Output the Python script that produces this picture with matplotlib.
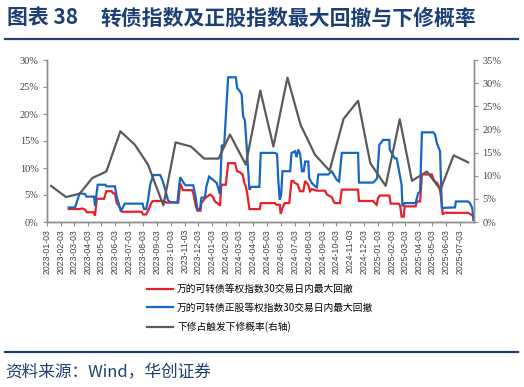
import matplotlib
matplotlib.use('Agg')
import matplotlib.pyplot as plt
import matplotlib.dates as mdates
from matplotlib.lines import Line2D
from matplotlib.ticker import FuncFormatter
import pandas as pd

plt.rcParams['font.family'] = ['Noto Sans CJK SC', 'DejaVu Sans']

# ---------------- data ----------------
blue_dates = ['2023-02-20', '2023-03-06', '2023-03-16', '2023-03-28', '2023-03-31', '2023-04-17',
              '2023-04-19', '2023-04-25', '2023-05-12', '2023-05-14', '2023-06-02', '2023-06-06',
              '2023-06-10', '2023-06-15', '2023-06-24', '2023-08-02', '2023-08-05', '2023-08-10',
              '2023-08-14', '2023-08-19', '2023-08-26', '2023-09-10', '2023-09-16', '2023-09-21',
              '2023-09-27', '2023-10-02', '2023-10-18', '2023-10-24', '2023-11-02', '2023-11-05',
              '2023-11-22', '2023-11-27', '2023-12-01', '2023-12-07', '2023-12-10', '2023-12-18',
              '2023-12-21', '2023-12-27', '2024-01-05', '2024-01-13', '2024-01-16', '2024-01-20',
              '2024-01-24', '2024-01-29', '2024-02-07', '2024-02-24', '2024-02-27', '2024-03-04',
              '2024-03-08', '2024-03-11', '2024-03-15', '2024-03-19', '2024-03-25', '2024-03-29',
              '2024-04-16', '2024-04-19', '2024-05-20', '2024-05-25', '2024-05-28', '2024-05-31',
              '2024-06-03', '2024-06-06', '2024-06-23', '2024-06-26', '2024-07-04', '2024-07-07',
              '2024-07-11', '2024-07-15', '2024-07-19', '2024-07-23', '2024-07-26', '2024-08-02',
              '2024-08-04', '2024-08-10', '2024-08-17', '2024-08-21', '2024-08-24', '2024-09-15',
              '2024-09-23', '2024-10-04', '2024-10-09', '2024-10-15', '2024-11-20', '2024-11-22',
              '2024-12-23', '2024-12-27', '2025-01-01', '2025-01-06', '2025-01-11', '2025-01-14',
              '2025-01-28', '2025-01-29', '2025-02-04', '2025-02-09', '2025-02-13', '2025-02-18',
              '2025-02-24', '2025-02-26', '2025-03-03', '2025-03-27', '2025-04-02', '2025-04-06',
              '2025-04-10', '2025-05-05', '2025-05-09', '2025-05-13', '2025-05-20', '2025-05-24',
              '2025-06-22', '2025-06-24', '2025-07-21', '2025-07-25', '2025-07-30', '2025-08-02']
blue_vals = [2.7, 2.7, 5.3, 5.2, 4.7, 4.7,
             3.0, 6.9, 6.9, 6.6, 6.6, 4.7,
             3.6, 2.0, 3.4, 3.4, 2.4, 2.4,
             4.0, 7.0, 8.7, 8.7, 7.5, 6.0,
             4.1, 3.7, 3.6, 8.3, 7.1, 6.8,
             6.8, 4.7, 2.4, 2.4, 4.5, 4.6,
             6.6, 8.4, 7.8, 7.2, 6.3, 5.2,
             14.3, 13.8, 26.8, 26.8, 24.8, 24.2,
             23.6, 19.6, 18.8, 14.0, 6.0, 6.5,
             6.5, 12.8, 12.8, 12.6, 7.5, 4.1,
             5.0, 9.4, 9.4, 12.8, 13.1, 12.0,
             13.4, 12.6, 9.4, 9.4, 11.2, 11.2,
             8.1, 7.2, 6.6, 6.4, 8.8, 8.8,
             9.4, 7.8, 7.5, 12.8, 12.8, 7.3,
             7.3, 7.6, 8.1, 14.3, 14.8, 15.2,
             15.2, 13.4, 12.5, 11.8, 11.8, 9.7,
             6.9, 2.9, 3.5, 3.5, 5.4, 5.6,
             16.6, 16.6, 16.2, 14.6, 13.1, 2.6,
             2.7, 3.8, 3.8, 3.5, 2.6, 0.4]

red_dates = ['2023-02-20', '2023-03-17', '2023-03-21', '2023-03-28', '2023-04-01', '2023-04-16',
             '2023-04-19', '2023-04-23', '2023-05-09', '2023-05-14', '2023-05-26', '2023-05-29',
             '2023-06-02', '2023-06-06', '2023-06-10', '2023-06-17', '2023-07-31', '2023-08-03',
             '2023-08-10', '2023-08-16', '2023-08-21', '2023-08-25', '2023-09-16', '2023-09-24',
             '2023-10-20', '2023-10-24', '2023-10-30', '2023-11-19', '2023-11-22', '2023-11-27',
             '2023-12-01', '2023-12-08', '2023-12-10', '2023-12-18', '2023-12-29', '2024-01-04',
             '2024-01-09', '2024-01-16', '2024-01-20', '2024-01-23', '2024-02-02', '2024-02-07',
             '2024-02-22', '2024-02-27', '2024-03-04', '2024-03-10', '2024-03-14', '2024-03-17',
             '2024-03-20', '2024-03-25', '2024-04-17', '2024-04-19', '2024-05-20', '2024-05-24',
             '2024-05-31', '2024-06-02', '2024-06-06', '2024-06-11', '2024-06-21', '2024-06-26',
             '2024-06-30', '2024-07-04', '2024-07-09', '2024-07-15', '2024-07-22', '2024-07-26',
             '2024-08-02', '2024-08-06', '2024-08-10', '2024-08-21', '2024-09-08', '2024-09-12',
             '2024-09-23', '2024-09-27', '2024-09-30', '2024-10-11', '2024-10-15', '2024-11-20',
             '2024-11-22', '2024-12-23', '2024-12-27', '2024-12-31', '2025-01-03', '2025-01-07',
             '2025-01-28', '2025-01-31', '2025-02-18', '2025-02-21', '2025-02-24', '2025-03-01',
             '2025-03-03', '2025-03-27', '2025-03-30', '2025-04-06', '2025-04-10', '2025-05-02',
             '2025-05-05', '2025-05-09', '2025-05-14', '2025-05-19', '2025-05-22', '2025-05-26',
             '2025-06-01', '2025-07-21', '2025-07-31', '2025-08-02']
red_vals = [2.4, 2.4, 2.5, 2.3, 1.8, 1.8,
            1.2, 4.3, 4.3, 5.7, 5.7, 5.3,
            5.3, 3.5, 3.1, 1.9, 1.9, 1.4,
            1.4, 2.4, 3.5, 3.9, 3.9, 3.6,
            3.6, 7.2, 5.9, 5.9, 5.4, 3.2,
            2.1, 2.1, 3.5, 4.4, 5.1, 4.7,
            3.8, 3.4, 3.0, 6.9, 6.9, 10.9,
            10.9, 9.4, 9.2, 8.8, 7.2, 6.6,
            5.4, 2.4, 2.4, 3.5, 3.5, 3.2,
            3.2, 1.5, 2.6, 3.5, 3.5, 7.6,
            7.6, 7.2, 7.0, 5.7, 5.7, 7.6,
            6.9, 5.7, 6.1, 5.8, 5.8, 5.1,
            4.6, 3.8, 3.5, 3.5, 6.0, 6.0,
            3.9, 3.9, 3.5, 3.2, 4.4, 4.9,
            4.9, 3.4, 3.4, 3.0, 1.0, 1.0,
            2.9, 2.9, 3.8, 3.8, 8.8, 8.8,
            8.0, 7.5, 7.2, 6.3, 4.7, 1.5,
            1.7, 1.7, 1.2, 0.4]

gray_dates = ['2023-01-12', '2023-02-14', '2023-03-16', '2023-04-13', '2023-05-14', '2023-06-14',
              '2023-07-16', '2023-08-14', '2023-09-17', '2023-10-14', '2023-11-17', '2023-12-16',
              '2024-01-17', '2024-02-11', '2024-03-17', '2024-04-18', '2024-05-17', '2024-06-17',
              '2024-07-16', '2024-08-17', '2024-09-18', '2024-10-19', '2024-11-20', '2024-12-17',
              '2025-01-20', '2025-02-20', '2025-03-19', '2025-04-21', '2025-05-21', '2025-06-19',
              '2025-07-21']
gray_vals = [7.8, 5.4, 6.1, 9.5, 10.9, 19.6,
             16.7, 12.4, 3.6, 17.2, 16.3, 13.7,
             13.7, 18.9, 12.4, 28.4, 16.3, 31.2,
             21.0, 14.5, 11.1, 22.3, 26.2, 12.7,
             7.8, 22.2, 8.9, 10.9, 7.0, 14.4,
             12.9]

tick_labels = ['2023-01-03', '2023-02-03', '2023-03-03', '2023-04-03', '2023-05-03', '2023-06-03',
               '2023-07-03', '2023-08-03', '2023-09-03', '2023-10-03', '2023-11-03', '2023-12-03',
               '2024-01-03', '2024-02-03', '2024-03-03', '2024-04-03', '2024-05-03', '2024-06-03',
               '2024-07-03', '2024-08-03', '2024-09-03', '2024-10-03', '2024-11-03', '2024-12-03',
               '2025-01-03', '2025-02-03', '2025-03-03', '2025-04-03', '2025-05-03', '2025-06-03',
               '2025-07-03']
x_start, x_end = '2023-01-03', '2025-08-03'

left_ticks = [0, 5, 10, 15, 20, 25, 30]
right_ticks = [0, 5, 10, 15, 20, 25, 30, 35]

series_labels = ['万的可转债等权指数30交易日内最大回撤',
                 '万的可转债正股等权指数30交易日内最大回撤',
                 '下修占触发下修概率(右轴)']
title_prefix = '图表 38'
title_text = '转债指数及正股指数最大回撤与下修概率'
source_text = '资料来源：Wind，华创证券'

# ---------------- styles ----------------
W, H = 524, 387
navy = '#1C3F74'
red = '#E8202A'
blue = '#1767C2'
gray = '#5A5A5A'
axis_gray = '#8C8C8C'
tick_color = '#404040'

fig = plt.figure(figsize=(W / 100, H / 100), dpi=100)
ax = fig.add_axes([47 / W, 1 - 222 / H, (474 - 47) / W, (222 - 60) / H])
ax2 = ax.twinx()

l_red, = ax.plot(pd.to_datetime(red_dates), red_vals, color=red, lw=1.6, solid_joinstyle='miter')
l_blue, = ax.plot(pd.to_datetime(blue_dates), blue_vals, color=blue, lw=1.6, solid_joinstyle='miter')
l_gray, = ax2.plot(pd.to_datetime(gray_dates), gray_vals, color=gray, lw=1.6)

ax.set_xlim(pd.Timestamp(x_start), pd.Timestamp(x_end))
ax.set_ylim(0, 30)
ax2.set_ylim(0, 35)

ax.set_yticks(left_ticks)
ax.set_yticklabels([f'{t}%' for t in left_ticks], fontfamily='Liberation Serif', fontsize=7.5, color=tick_color)
ax2.set_yticks(right_ticks)
ax2.set_yticklabels([f'{t}%' for t in right_ticks], fontfamily='Liberation Serif', fontsize=7.5, color=tick_color)

ax.set_xticks(pd.to_datetime(tick_labels))
ax.set_xticklabels(tick_labels, rotation=90, fontfamily='Liberation Sans', fontsize=6.3, color=tick_color)

for a in (ax, ax2):
    a.spines['top'].set_visible(False)
    for s in ('left', 'right', 'bottom'):
        a.spines[s].set_color(axis_gray)
        a.spines[s].set_linewidth(1.0)
    a.tick_params(axis='both', direction='out', length=3, width=0.8, color=axis_gray, pad=2)
ax.tick_params(axis='y', pad=3)
ax2.tick_params(axis='y', pad=3)

# legend
fig.legend([l_red, l_blue, l_gray], series_labels, loc='upper left',
           bbox_to_anchor=(147 / W, 1 - 284 / H), frameon=False, fontsize=7,
           handlelength=2.7, handletextpad=0.4, labelspacing=0.9,
           borderpad=0, borderaxespad=0)

# title and decorations
fig.text(7 / W, 1 - 18 / H, title_prefix, fontsize=15, fontweight='bold', color=navy, va='center', ha='left')
fig.text(100 / W, 1 - 18 / H, title_text, fontsize=15, fontweight='bold', color=navy, va='center', ha='left')
fig.add_artist(Line2D([5 / W, 518 / W], [1 - 38.5 / H] * 2, color=navy, lw=1.6))
fig.add_artist(Line2D([5 / W, 518 / W], [1 - 352 / H] * 2, color=navy, lw=1.6))
fig.text(5 / W, 1 - 372 / H, source_text, fontsize=12, style='italic', color=navy, va='center', ha='left')

fig.savefig('out.png', dpi=100)
